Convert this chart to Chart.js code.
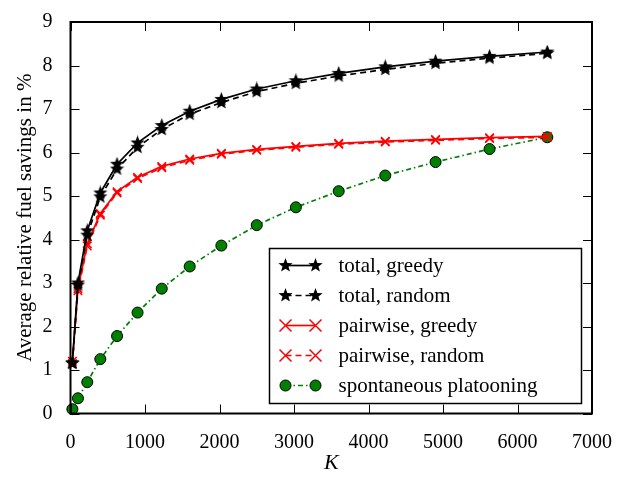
<!DOCTYPE html>
<html>
<head>
<meta charset="utf-8">
<script src="https://cdn.jsdelivr.net/npm/chart.js@4.4.0/dist/chart.umd.min.js"></script>
<style>
  html, body { margin: 0; padding: 0; background: #fff; }
</style>
</head>
<body>
<canvas id="fuelChart" width="634" height="479"></canvas>
<script>
// K values (number of vehicles)
const kValues = [25, 100, 225, 400, 625, 900, 1225, 1600, 2025, 2500, 3025, 3600, 4225, 4900, 5625, 6400];

const totalGreedy    = [1.17, 3.00, 4.20, 5.07, 5.73, 6.22, 6.62, 6.95, 7.22, 7.46, 7.65, 7.82, 7.97, 8.10, 8.21, 8.31];
const totalRandom    = [1.15, 2.95, 4.10, 4.98, 5.62, 6.12, 6.53, 6.88, 7.15, 7.40, 7.59, 7.76, 7.91, 8.05, 8.17, 8.28];
const pairGreedy     = [1.20, 2.87, 3.90, 4.60, 5.10, 5.43, 5.68, 5.85, 5.98, 6.07, 6.14, 6.21, 6.26, 6.30, 6.34, 6.37];
const pairRandom     = [1.15, 2.82, 3.85, 4.56, 5.07, 5.40, 5.65, 5.82, 5.96, 6.05, 6.12, 6.19, 6.24, 6.28, 6.32, 6.35];
const spontaneous    = [0.10, 0.35, 0.72, 1.25, 1.78, 2.32, 2.87, 3.38, 3.86, 4.33, 4.74, 5.11, 5.47, 5.78, 6.08, 6.35];

const seriesLabels = ["total, greedy", "total, random", "pairwise, greedy", "pairwise, random", "spontaneous platooning"];
const xTicks = [0, 1000, 2000, 3000, 4000, 5000, 6000, 7000];
const yTicks = [0, 1, 2, 3, 4, 5, 6, 7, 8, 9];

const FONT = "'Liberation Serif', 'DejaVu Serif', serif";

// filled five-pointed star used as marker
function makeStar(size) {
  const cv = document.createElement("canvas");
  cv.width = size; cv.height = size;
  const c = cv.getContext("2d");
  const r = size / 2, ri = r * 0.42;
  c.beginPath();
  for (let i = 0; i < 10; i++) {
    const a = -Math.PI / 2 + i * Math.PI / 5;
    const rr = i % 2 === 0 ? r : ri;
    c.lineTo(r + rr * Math.cos(a), r + rr * Math.sin(a));
  }
  c.closePath();
  c.fillStyle = "#000";
  c.fill();
  return cv;
}
const star = makeStar(15);

const pts = (ys) => kValues.map((k, i) => ({ x: k, y: ys[i] }));

// frame and inward ticks on all four sides
const frameTicks = {
  id: "frameTicks",
  afterDatasetsDraw(chart) {
    const c = chart.ctx;
    const a = chart.chartArea;
    const xs = chart.scales.x, ys = chart.scales.y;
    const len = 9;
    c.save();
    c.strokeStyle = "#000";
    c.lineWidth = 1;
    c.beginPath();
    xTicks.forEach(t => {
      const px = Math.round(xs.getPixelForValue(t)) + 0.5;
      c.moveTo(px, a.bottom); c.lineTo(px, a.bottom - len);
      c.moveTo(px, a.top); c.lineTo(px, a.top + len);
    });
    yTicks.forEach(t => {
      const py = Math.round(ys.getPixelForValue(t)) + 0.5;
      c.moveTo(a.left, py); c.lineTo(a.left + len, py);
      c.moveTo(a.right, py); c.lineTo(a.right - len, py);
    });
    c.stroke();
    c.lineWidth = 2;
    c.strokeRect(a.left, a.top, a.right - a.left, a.bottom - a.top);
    c.restore();
  }
};

// matplotlib-like legend box with two markers per sample
const boxLegend = {
  id: "boxLegend",
  afterDraw(chart) {
    const c = chart.ctx;
    const a = chart.chartArea;
    const w = 312, h = 155;
    const bx = a.right - 10.5 - w, by = a.bottom - 10 - h;
    c.save();
    c.fillStyle = "#fff";
    c.fillRect(bx, by, w, h);
    c.strokeStyle = "#000";
    c.lineWidth = 1.5;
    c.strokeRect(bx, by, w, h);
    c.font = "21px " + FONT;
    c.textBaseline = "middle";
    chart.data.datasets.forEach((ds, i) => {
      const y = by + 17 + i * 30;
      const x1 = bx + 16, x2 = bx + 46;
      c.strokeStyle = ds.borderColor;
      c.lineWidth = ds.borderWidth;
      c.setLineDash(ds.borderDash || []);
      c.beginPath(); c.moveTo(x1, y); c.lineTo(x2, y); c.stroke();
      c.setLineDash([]);
      [x1, x2].forEach(x => {
        if (ds.pointStyle === "circle") {
          c.fillStyle = ds.pointBackgroundColor;
          c.strokeStyle = ds.pointBorderColor;
          c.lineWidth = ds.pointBorderWidth;
          c.beginPath(); c.arc(x, y, ds.pointRadius, 0, Math.PI * 2); c.fill(); c.stroke();
        } else if (ds.pointStyle === "crossRot") {
          c.strokeStyle = ds.pointBorderColor;
          c.lineWidth = ds.pointBorderWidth;
          const r = ds.pointRadius;
          c.beginPath();
          c.moveTo(x - r, y - r); c.lineTo(x + r, y + r);
          c.moveTo(x - r, y + r); c.lineTo(x + r, y - r);
          c.stroke();
        } else {
          const img = ds.pointStyle;
          c.drawImage(img, x - img.width / 2, y - img.height / 2);
        }
      });
      c.fillStyle = "#000";
      c.fillText(ds.label, bx + 69, y + 1);
    });
    c.restore();
  }
};

const ctx = document.getElementById("fuelChart").getContext("2d");
const fuelChart = new Chart(ctx, {
  type: "line",
  data: {
    datasets: [
      {
        label: seriesLabels[0], data: pts(totalGreedy),
        borderColor: "#000", borderWidth: 1.7,
        pointStyle: star, pointRadius: 7, pointBorderWidth: 0
      },
      {
        label: seriesLabels[1], data: pts(totalRandom),
        borderColor: "#000", borderWidth: 1.7, borderDash: [6, 4],
        pointStyle: star, pointRadius: 7, pointBorderWidth: 0
      },
      {
        label: seriesLabels[2], data: pts(pairGreedy),
        borderColor: "#ff0000", borderWidth: 1.7,
        pointStyle: "crossRot", pointRadius: 6, pointBorderWidth: 1.5,
        pointBorderColor: "#ff0000"
      },
      {
        label: seriesLabels[3], data: pts(pairRandom),
        borderColor: "#ff0000", borderWidth: 1.7, borderDash: [6, 4],
        pointStyle: "crossRot", pointRadius: 6, pointBorderWidth: 1.5,
        pointBorderColor: "#ff0000"
      },
      {
        label: seriesLabels[4], data: pts(spontaneous),
        borderColor: "#008000", borderWidth: 1.7, borderDash: [5, 3, 1.5, 3],
        pointStyle: "circle", pointRadius: 5.5, pointBorderWidth: 1,
        pointBackgroundColor: "#008000", pointBorderColor: "#000"
      }
    ]
  },
  options: {
    responsive: false,
    animation: false,
    clip: false,
    layout: { padding: { left: 0, top: 11, right: 42, bottom: 0 } },
    plugins: { legend: { display: false }, tooltip: { enabled: false } },
    elements: { line: { tension: 0, fill: false } },
    scales: {
      x: {
        type: "linear", min: 0, max: 7000,
        afterBuildTicks: (s) => { s.ticks = xTicks.map(v => ({ value: v })); },
        afterFit: (s) => { s.height = 65.5; },
        grid: { display: false }, border: { display: false },
        ticks: { padding: 9, color: "#000", font: { family: FONT, size: 20 }, maxRotation: 0,
                 callback: (v) => String(v) },
        title: { display: true, text: "K", color: "#000", padding: { top: 0, bottom: 3 },
                 font: { family: FONT, size: 22, style: "italic" } }
      },
      y: {
        type: "linear", min: 0, max: 9,
        afterBuildTicks: (s) => { s.ticks = yTicks.map(v => ({ value: v })); },
        afterFit: (s) => { s.width = 70.5; },
        grid: { display: false }, border: { display: false },
        ticks: { padding: 10, color: "#000", font: { family: FONT, size: 20 },
                 callback: (v) => String(v) },
        title: { display: true, text: "Average relative fuel savings in %", color: "#000",
                 padding: { top: 13, bottom: 0 }, font: { family: FONT, size: 21 } }
      }
    }
  },
  plugins: [frameTicks, boxLegend]
});
</script>
</body>
</html>
